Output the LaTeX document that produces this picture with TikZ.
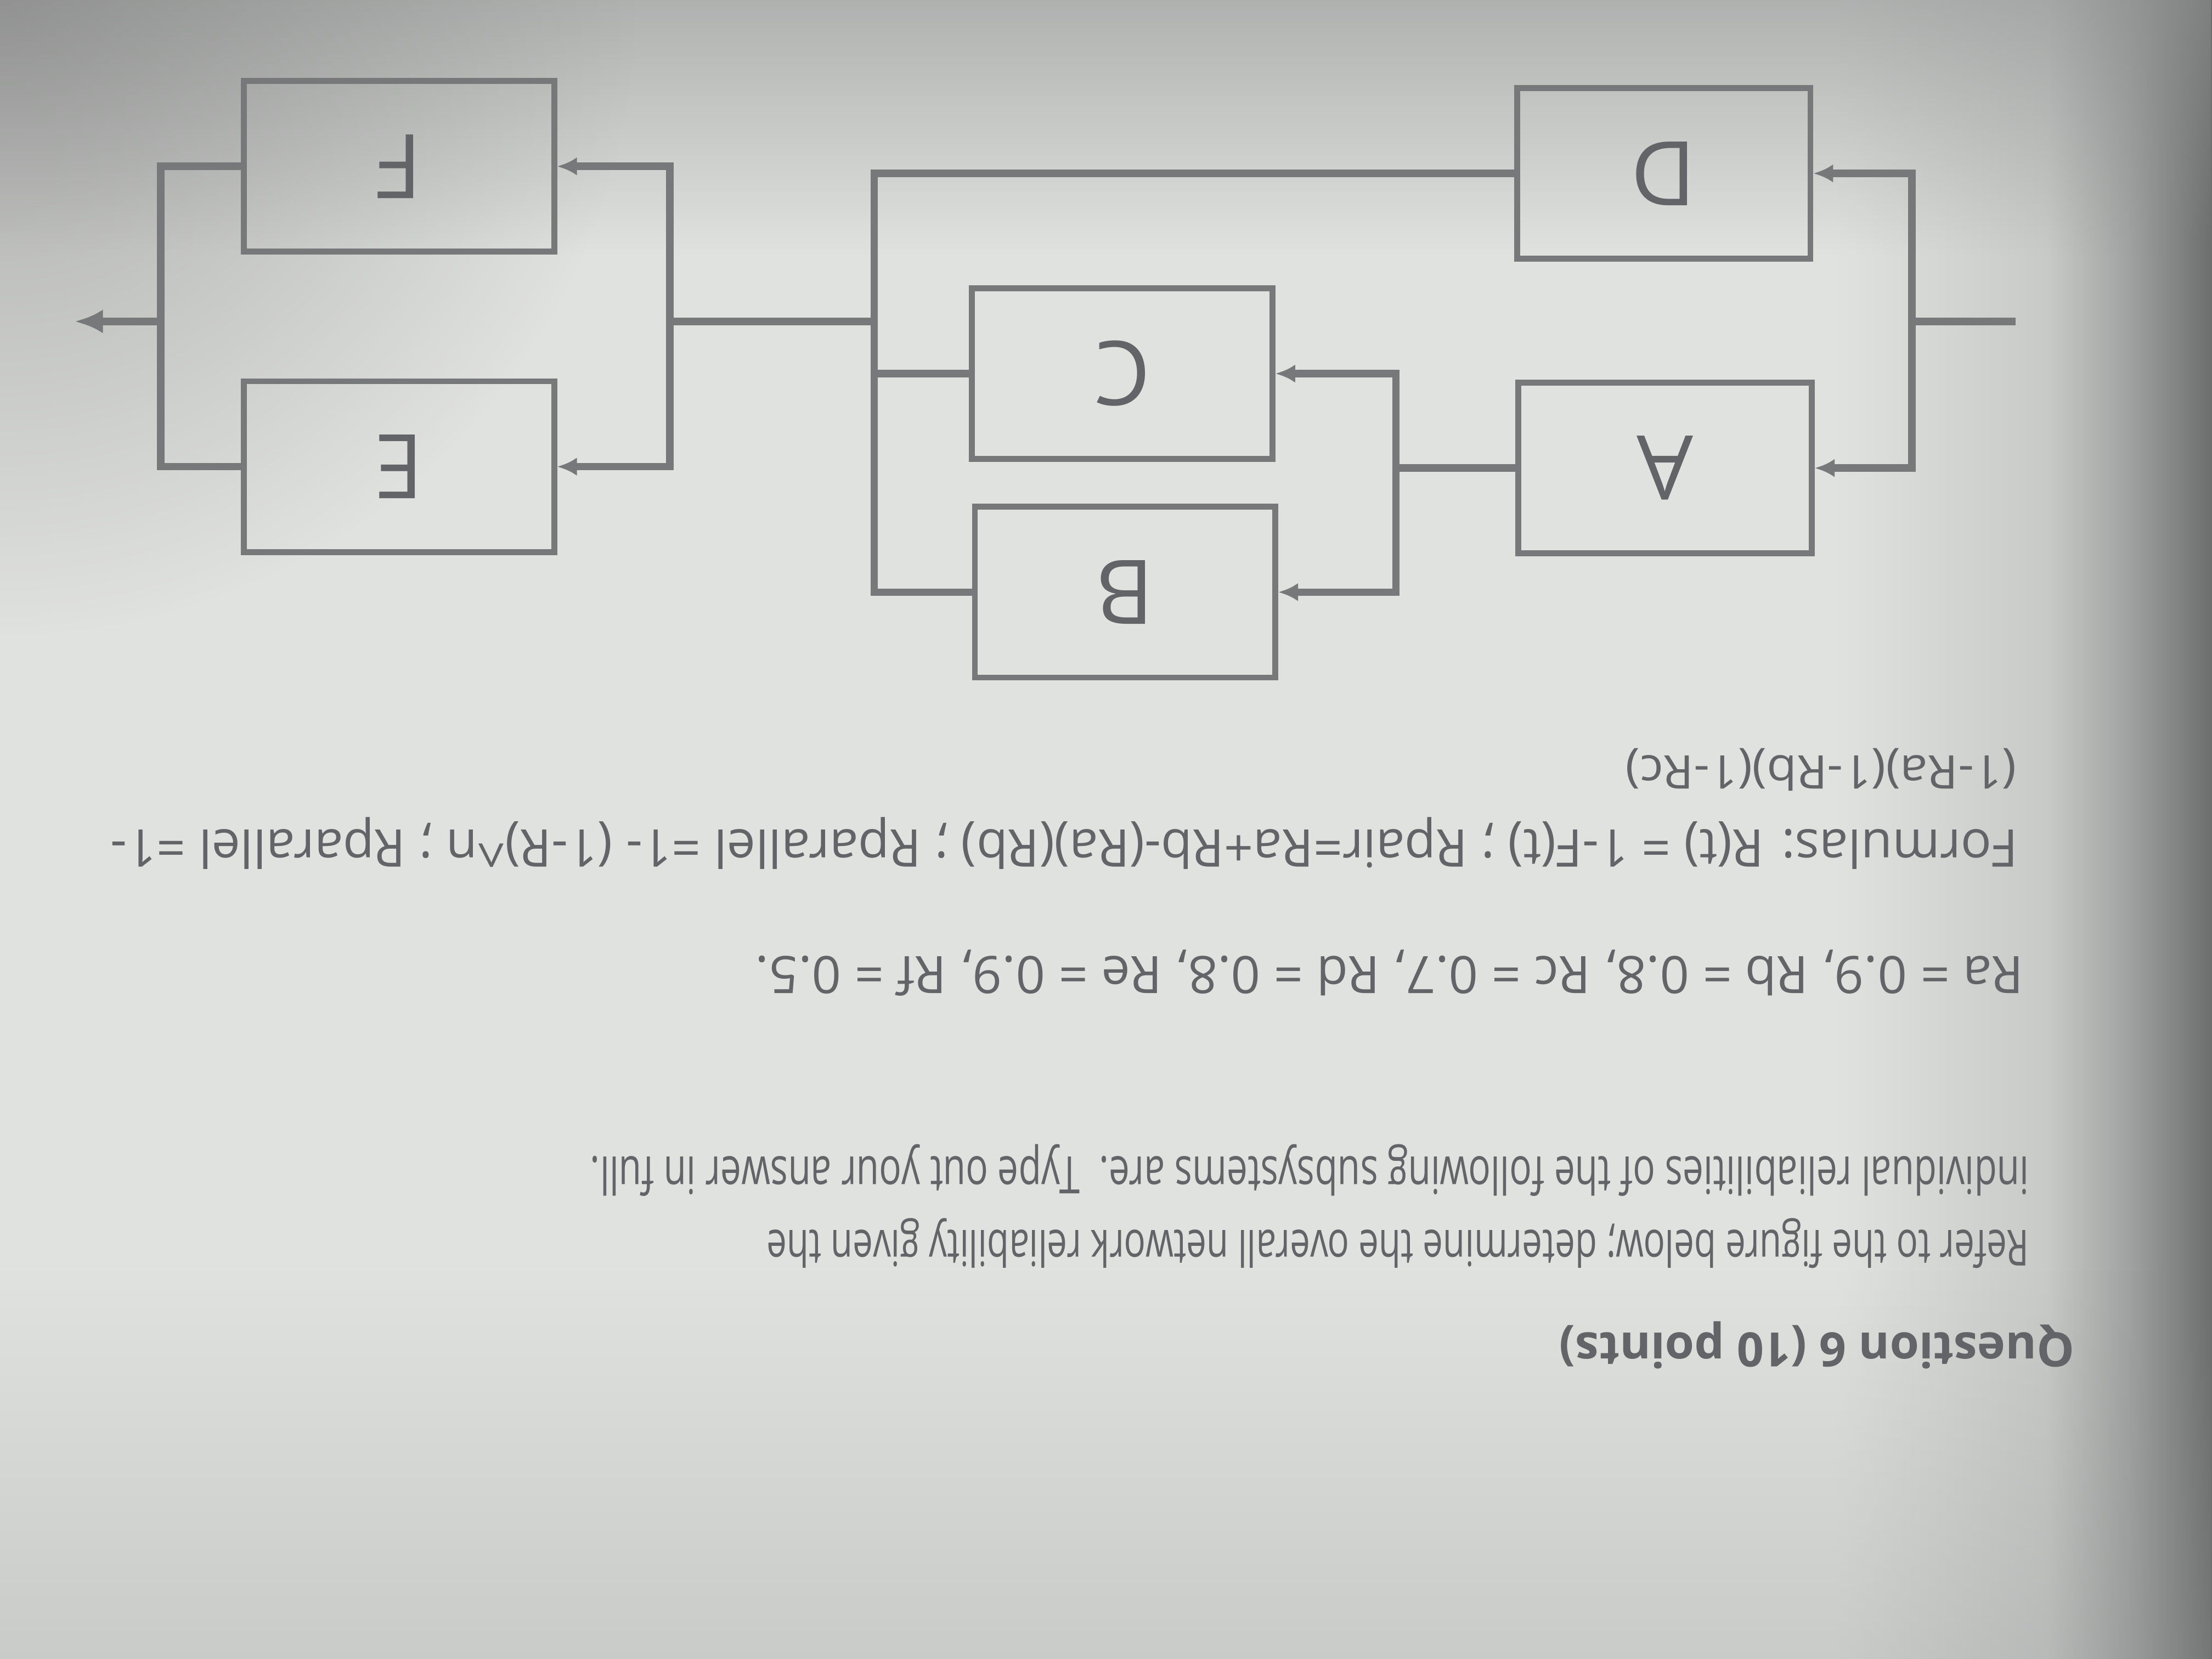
\documentclass[tikz,border=0pt]{standalone}
\usepackage{fontspec}
\setmainfont{Open Sans}
\usetikzlibrary{arrows.meta,fadings}
\definecolor{paper}{RGB}{224,226,223}
\definecolor{ink}{RGB}{118,120,121}
\definecolor{txt}{RGB}{98,100,104}
\definecolor{topgray}{RGB}{140,142,142}
\definecolor{pA}{RGB}{200,202,200}
\definecolor{pB}{RGB}{160,162,161}
\definecolor{pC}{RGB}{108,110,110}
\pgfdeclarehorizontalshading{rightedge}{100bp}{color(0bp)=(paper); color(43bp)=(paper); color(61bp)=(pA); color(68bp)=(pB); color(75bp)=(pC); color(100bp)=(pC)}
\tikzfading[name=topfade, top color=transparent!0, bottom color=transparent!100]
\tikzfading[name=bottomfade, top color=transparent!100, bottom color=transparent!0]
\tikzfading[name=glow, inner color=transparent!0, outer color=transparent!100]
\begin{document}
\begin{tikzpicture}[x=0.01cm, y=-0.01cm,
  unit/.style={draw=ink, line width=1.2pt, minimum height=1.21cm, inner sep=0pt,
    text=txt, font=\fontsize{18}{20}\selectfont},
  wire/.style={draw=ink, line width=1.5pt, line cap=rect},
  feed/.style={wire, -{Latex[length=1.4mm,width=1.3mm]}},
  outarrow/.style={wire, -{Latex[length=2mm,width=1.7mm]}},
  textline/.style={rotate=180, anchor=west, inner sep=0pt, text=txt}
]
% background (photo of a page)
\useasboundingbox (0cm,0cm) rectangle (15.68cm,-11.76cm);
\fill[paper] (0cm,0cm) rectangle (15.68cm,-11.76cm);
\shade[shading=rightedge] (11.5cm,0cm) rectangle (15.68cm,-11.76cm);
\fill[topgray, path fading=topfade, opacity=0.7] (0cm,0.4cm) rectangle (15.68cm,-1.8cm);
\fill[topgray, path fading=bottomfade, opacity=0.35] (0cm,-9.0cm) rectangle (15.68cm,-12.6cm);
\fill[black!55, path fading=glow, opacity=0.5] (0cm,0cm) circle (4.5cm);

% blocks
\node[unit, minimum width=2.2cm]  (F) at (283,118) {\rotatebox{180}{F}};
\node[unit, minimum width=2.2cm]  (E) at (283,331) {\rotatebox{180}{E}};
\node[unit, minimum width=2.13cm] (C) at (796,265) {\rotatebox{180}{C}};
\node[unit, minimum width=2.13cm] (B) at (798,420) {\rotatebox{180}{B}};
\node[unit, minimum width=2.08cm] (D) at (1180,123) {\rotatebox{180}{D}};
\node[unit, minimum width=2.08cm] (A) at (1181,332) {\rotatebox{180}{A}};

% junction points
\coordinate (in)   at (1427,228);
\coordinate (jin)  at (1356,228);
\coordinate (jinD) at (1356,123);
\coordinate (jinA) at (1356,332);
\coordinate (jbc)  at (990,332);
\coordinate (jbcC) at (990,265);
\coordinate (jbcB) at (990,420);
\coordinate (mD)   at (620,123);
\coordinate (mC)   at (620,265);
\coordinate (m)    at (620,228);
\coordinate (jef)  at (475,228);
\coordinate (jF)   at (475,118);
\coordinate (jE)   at (475,331);
\coordinate (oF)   at (114,118);
\coordinate (oE)   at (114,331);
\coordinate (o)    at (114,228);
\coordinate (out)  at (53,228);

% connectors
\draw[wire] (in) -- (jin);
\draw[wire] (jinD) -- (jinA);
\draw[feed] (jinD) -- (D.east);
\draw[feed] (jinA) -- (A.east);
\draw[wire] (A.west) -- (jbc);
\draw[wire] (jbcC) -- (jbcB);
\draw[feed] (jbcC) -- (C.east);
\draw[feed] (jbcB) -- (B.east);
\draw[wire] (D.west) -- (mD) |- (B.west);
\draw[wire] (C.west) -- (mC);
\draw[wire] (m) -- (jef);
\draw[wire] (jF) -- (jE);
\draw[feed] (jF) -- (F.east);
\draw[feed] (jE) -- (E.east);
\draw[wire] (F.west) -- (oF) -- (oE) -- (E.west);
\draw[outarrow] (o) -- (out);

% question text (page is upside down)
\node[textline] (q)  at (1472,954) {\resizebox{3.65cm}{!}{\bfseries Question 6 (10 points)}};
\node[textline] (l2) at (1440,882) {\resizebox{8.95cm}{0.27cm}{Refer to the figure below; determine the overall network reliability given the}};
\node[textline] (l3) at (1440,830) {\resizebox{10.2cm}{0.28cm}{individual reliabilities of the following subsystems are.\ \ Type out your answer in full.}};
\node[textline] (l4) at (1436,690) {\resizebox{8.99cm}{0.28cm}{Ra = 0.9, Rb = 0.8, Rc = 0.7, Rd = 0.8, Re = 0.9, Rf = 0.5.}};
\node[textline] (l5) at (1432,598) {\resizebox{13.52cm}{0.28cm}{Formulas: R(t) = 1-F(t) ; Rpair=Ra+Rb-(Ra)(Rb) ; Rparallel =1- (1-R)\textasciicircum n ; Rparallel =1-}};
\node[textline] (l6) at (1431,546) {\resizebox{2.77cm}{0.25cm}{(1-Ra)(1-Rb)(1-Rc)}};
\end{tikzpicture}
\end{document}
